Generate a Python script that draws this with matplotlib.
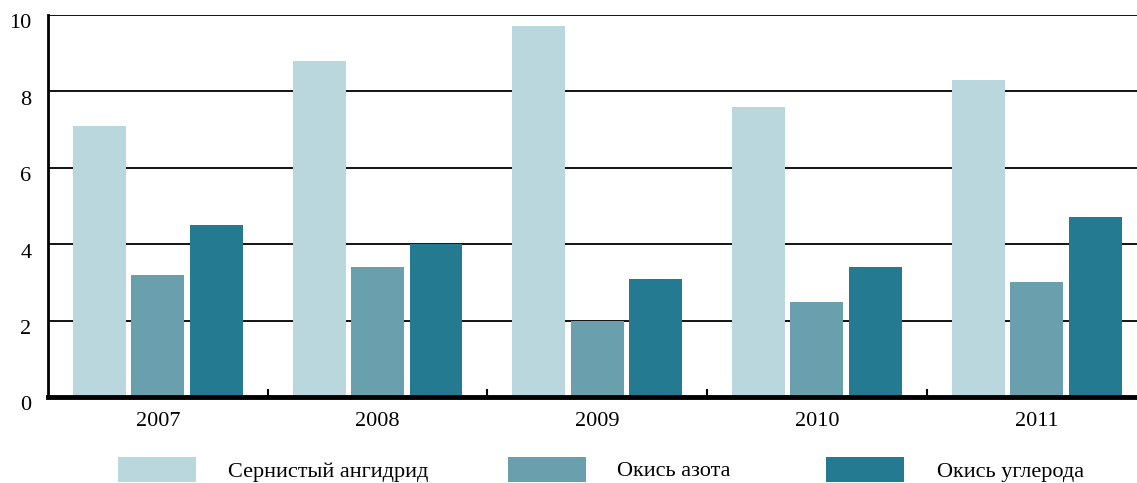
import matplotlib
matplotlib.use("Agg")
import matplotlib.pyplot as plt
from matplotlib.patches import Rectangle
import matplotlib.transforms as mtransforms
import numpy as np

years = ["2007", "2008", "2009", "2010", "2011"]
series_names = ["Сернистый ангидрид", "Окись азота", "Окись углерода"]
sulfur = [7.1, 8.8, 9.7, 7.6, 8.3]
nitrogen = [3.2, 3.4, 2.0, 2.5, 3.0]
carbon = [4.5, 4.0, 3.1, 3.4, 4.7]
colors = ["#B9D7DC", "#6A9FAD", "#247B91"]
yticks = [0, 2, 4, 6, 8, 10]

plt.rcParams['font.family'] = ['Liberation Serif', 'DejaVu Serif']

W, H = 1137, 483
fig = plt.figure(figsize=(W / 100, H / 100), dpi=100)
ax = fig.add_axes([48 / W, (H - 397) / H, (W - 48) / W, (397 - 15) / H])

x = np.arange(len(years))
bw = 0.241
off = 0.266
for i, (vals, c) in enumerate(zip([sulfur, nitrogen, carbon], colors)):
    ax.bar(x + (i - 1) * off, vals, width=bw, color=c, zorder=3, linewidth=0)

ax.set_ylim(0, 10)
ax.set_xlim(-0.5, -0.5 + (W - 48) / 219.7)
ax.set_yticks(yticks)
ax.set_yticklabels([str(v) for v in yticks], fontsize=16)
ax.tick_params(axis='y', length=0, pad=12)
for lab in ax.get_yticklabels():
    lab.set_transform(lab.get_transform() + mtransforms.ScaledTranslation(0, -0.065, fig.dpi_scale_trans))

ax.set_xticks(x)
ax.set_xticklabels(years, fontsize=16)
ax.tick_params(axis='x', which='major', length=0, pad=11)
ax.set_xticks(np.arange(len(years) - 1) + 0.5, minor=True)
ax.tick_params(axis='x', which='minor', direction='in', length=6, width=1.5, color='black')

for v in yticks[1:]:
    ax.axhline(v, color='black', lw=1.3, zorder=1)

for s in ['top', 'right']:
    ax.spines[s].set_visible(False)
ax.spines['left'].set_linewidth(2)
ax.spines['bottom'].set_linewidth(3.5)
ax.spines['bottom'].set_zorder(5)

# legend
leg_x = [118, 508, 826]
text_x = [228, 617, 937]
for lx, tx, name, c in zip(leg_x, text_x, series_names, colors):
    fig.add_artist(Rectangle((lx / W, (H - 482) / H), 78 / W, 25 / H,
                             transform=fig.transFigure, color=c, lw=0))
    fig.text(tx / W, (H - 472) / H, name, fontsize=16, va='center', ha='left')

fig.savefig("out.png", dpi=100)
